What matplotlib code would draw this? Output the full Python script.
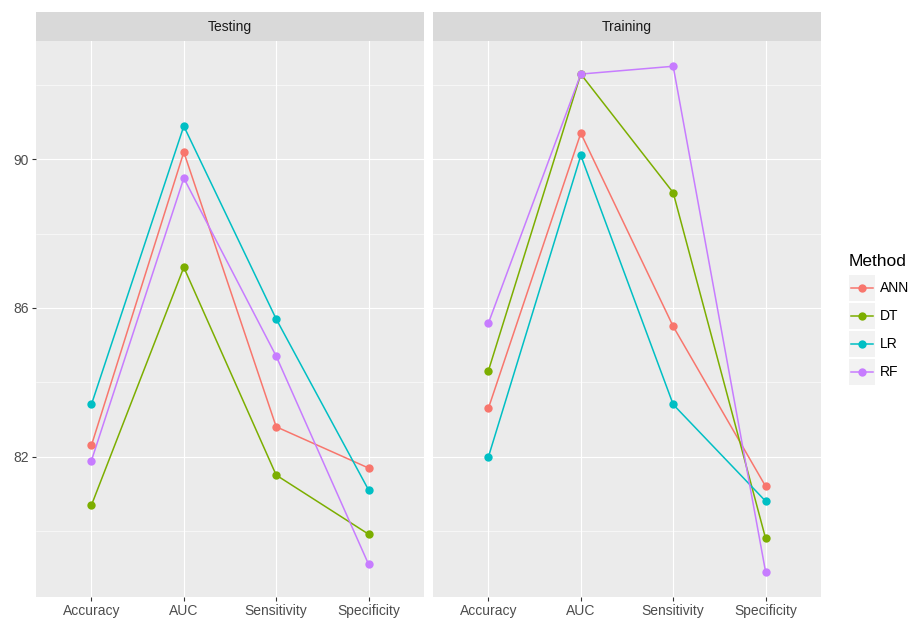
import matplotlib.pyplot as plt
from matplotlib.patches import Rectangle

plt.rcParams['font.family'] = ['Liberation Sans', 'DejaVu Sans']

metrics = ['Accuracy', 'AUC', 'Sensitivity', 'Specificity']
methods = ['ANN', 'DT', 'LR', 'RF']
colors = ['#F8766D', '#7CAE00', '#00BFC4', '#C77CFF']

# values, order follows `metrics`
test_ann = [82.30, 90.19, 82.80, 81.69]
test_dt = [80.69, 87.09, 81.50, 79.91]
test_lr = [83.40, 90.89, 85.70, 81.10]
test_rf = [81.89, 89.49, 84.70, 79.10]

train_ann = [83.30, 90.70, 85.50, 81.20]
train_dt = [84.31, 92.29, 89.10, 79.80]
train_lr = [81.99, 90.10, 83.40, 80.80]
train_rf = [85.59, 92.29, 92.50, 78.90]

panels = [('Testing', [test_ann, test_dt, test_lr, test_rf]),
          ('Training', [train_ann, train_dt, train_lr, train_rf])]

W, H = 911, 620
fig = plt.figure(figsize=(W / 100, H / 100), dpi=100)


def px_axes(x0, y0, x1, y1):
    return fig.add_axes([x0 / W, 1 - y1 / H, (x1 - x0) / W, (y1 - y0) / H])


xs = list(range(1, len(metrics) + 1))
lefts = [(36, 424), (433, 821)]

for i, (title, series) in enumerate(panels):
    x0, x1 = lefts[i]
    ax = px_axes(x0, 41, x1, 597)
    ax.set_facecolor('#EBEBEB')
    for s in ax.spines.values():
        s.set_visible(False)
    ax.set_xlim(0.4, 4.6)
    ax.set_ylim(78.22, 93.18)
    ax.set_xticks(xs)
    ax.set_xticklabels(metrics)
    ax.set_yticks([82, 86, 90])
    ax.set_yticks([80, 84, 88, 92], minor=True)
    ax.grid(which='major', color='white', lw=0.8)
    ax.grid(which='minor', axis='y', color='white', lw=0.4)
    ax.set_axisbelow(True)
    ax.tick_params(which='major', length=3, width=0.8, color='#333333',
                   labelcolor='#4D4D4D', labelsize=10, pad=2)
    ax.tick_params(which='minor', length=0)
    if i == 1:
        ax.tick_params(axis='y', length=0, labelleft=False)

    for vals, c in zip(series, colors):
        ax.plot(xs, vals, color=c, lw=1.1, zorder=2)
    for vals, c in zip(series, colors):
        ax.plot(xs, vals, 'o', color=c, ms=6, mec='none', zorder=3)

    st = px_axes(x0, 12, x1, 41)
    st.set_facecolor('#D9D9D9')
    st.set_xticks([])
    st.set_yticks([])
    for s in st.spines.values():
        s.set_visible(False)
    st.text(0.5, 0.5, title, ha='center', va='center', fontsize=10,
            color='#1A1A1A', transform=st.transAxes)

# legend
leg = fig.add_axes([0, 0, 1, 1])
leg.set_xlim(0, W)
leg.set_ylim(H, 0)
leg.axis('off')
leg.text(849, 262, 'Method', fontsize=12.5, ha='left', va='center')
for k, (m, c) in enumerate(zip(methods, colors)):
    cy = 288 + 28 * k
    leg.add_patch(Rectangle((849, cy - 13), 26, 26, facecolor='#F2F2F2',
                            edgecolor='none'))
    leg.plot([851, 873], [cy, cy], color=c, lw=1.1)
    leg.plot([862], [cy], 'o', color=c, ms=6, mec='none')
    leg.text(880, cy, m, fontsize=10, ha='left', va='center')

fig.savefig('out.png', dpi=100)
